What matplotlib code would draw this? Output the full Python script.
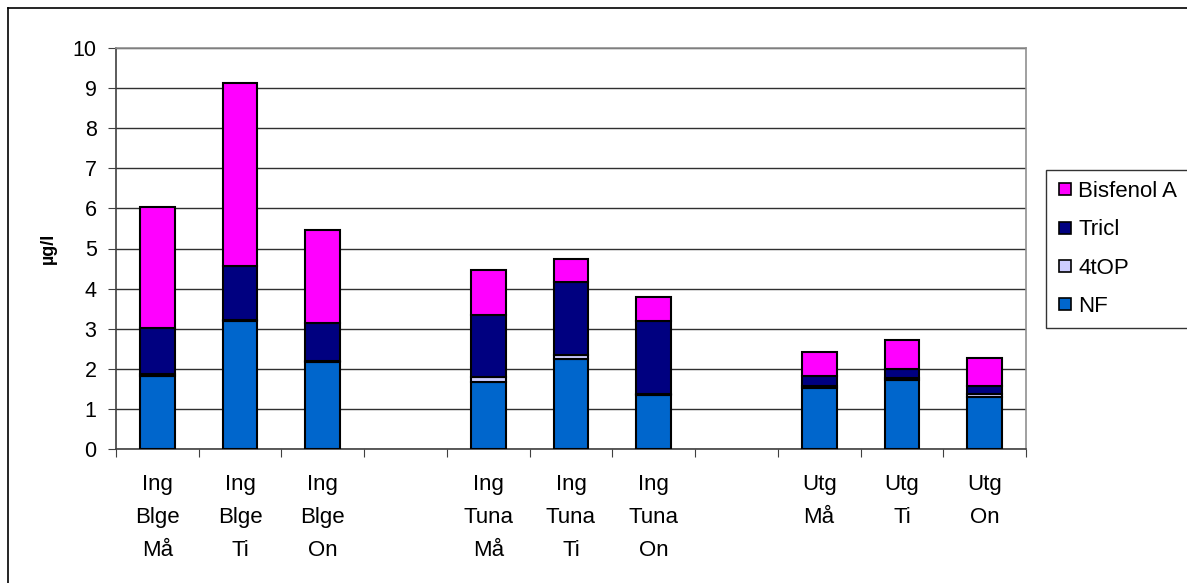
import numpy as np
import matplotlib.pyplot as plt
from matplotlib.lines import Line2D

plt.rcParams['font.family'] = ['Liberation Sans', 'DejaVu Sans']

categories = ["Ing\nBlge\nMå", "Ing\nBlge\nTi", "Ing\nBlge\nOn", "",
              "Ing\nTuna\nMå", "Ing\nTuna\nTi", "Ing\nTuna\nOn", "",
              "Utg\nMå", "Utg\nTi", "Utg\nOn"]
nf = [1.82, 3.18, 2.16, None, 1.66, 2.25, 1.34, None, 1.52, 1.71, 1.29]
top4op = [0.05, 0.04, 0.04, None, 0.13, 0.10, 0.03, None, 0.04, 0.05, 0.08]
tricl = [1.14, 1.35, 0.94, None, 1.54, 1.81, 1.81, None, 0.25, 0.23, 0.19]
bisfenol = [3.03, 4.56, 2.31, None, 1.14, 0.58, 0.60, None, 0.60, 0.73, 0.71]

series = [("NF", nf, "#0066CC"), ("4tOP", top4op, "#CCCCFF"),
          ("Tricl", tricl, "#000080"), ("Bisfenol A", bisfenol, "#FF00FF")]

fig = plt.figure(figsize=(11.87, 5.83), dpi=100)
ax = fig.add_axes([116 / 1187, 1 - 449 / 583, 910 / 1187, 401 / 583])

x = np.arange(len(categories))
bottom = np.zeros(len(categories))
handles = []
for name, vals, col in series:
    v = np.array([np.nan if a is None else a for a in vals], dtype=float)
    ax.bar(x, v, width=0.42, bottom=bottom, color=col, edgecolor="black",
           linewidth=1.5, zorder=3)
    bottom = bottom + np.nan_to_num(v)
    handles.append(Line2D([], [], marker="s", linestyle="none", markersize=8,
                          markerfacecolor=col, markeredgecolor="black",
                          markeredgewidth=1.2, label=name))

ax.set_xlim(-0.5, len(categories) - 0.5)
ax.set_ylim(0, 10)
ax.set_yticks(range(0, 11))
ax.yaxis.grid(True, color="#303030", linewidth=1)
ax.set_axisbelow(True)

ax.set_xticks(np.arange(-0.5, len(categories), 1.0))
ax.set_xticklabels([])
ax.set_xticks(x, minor=True)
ax.set_xticklabels(categories, minor=True, fontsize=16, linespacing=1.75)
ax.tick_params(axis="x", which="major", length=6, color="#404040", direction="out")
ax.tick_params(axis="x", which="minor", length=0, pad=18)
ax.tick_params(axis="y", length=6, color="#404040", labelsize=15.5, pad=8)

for s in ["left", "bottom"]:
    ax.spines[s].set_color("#404040")
    ax.spines[s].set_linewidth(1.2)
for s in ["right", "top"]:
    ax.spines[s].set_color("#909090")
    ax.spines[s].set_linewidth(1.2)

fig.text(48 / 1187, 1 - 248 / 583, "µg/l", rotation=90, fontsize=13,
         fontweight="bold", ha="center", va="center")

handles = handles[::-1]
leg = fig.legend(handles=handles, loc="upper left",
                 bbox_to_anchor=(1046 / 1187, 1 - 170 / 583),
                 fontsize=16, frameon=True, fancybox=False, edgecolor="black",
                 borderpad=0.5, labelspacing=0.78, handletextpad=0.25,
                 handlelength=0.7, borderaxespad=0)
leg.get_frame().set_linewidth(1.0)

# outer chart border
fig.add_artist(Line2D([8 / 1187, 8 / 1187], [0, 1 - 8 / 583], color="black", lw=1.2))
fig.add_artist(Line2D([8 / 1187, 1], [1 - 8 / 583, 1 - 8 / 583], color="black", lw=1.2))

fig.savefig("out.png", dpi=100)
